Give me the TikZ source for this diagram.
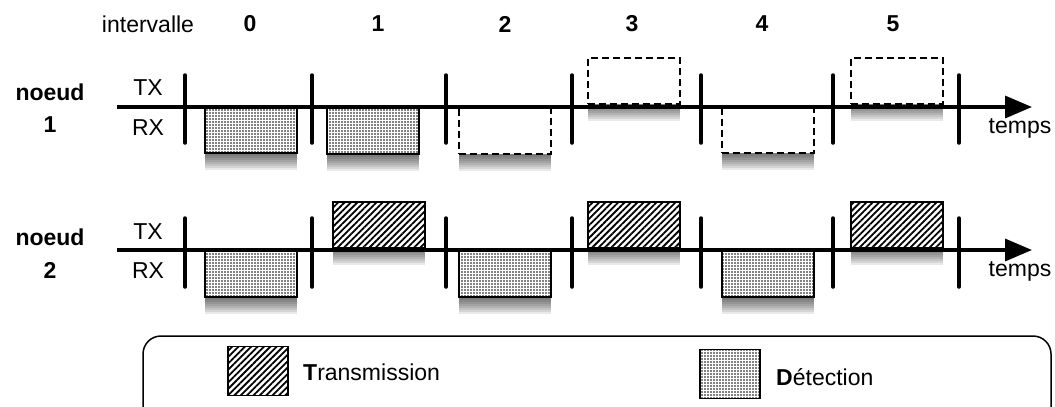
\documentclass[tikz,border=0pt]{standalone}
\usepackage{fontspec}
\setmainfont{Liberation Sans}
\usetikzlibrary{arrows.meta,patterns.meta}
\newcommand\taille{\fontsize{23}{27}\selectfont}
\tikzset{
  couche/.style={preaction={fill=black,opacity=.085,draw=none,transform canvas={yshift=-#1}}},
  ombre/.style={couche=17pt,couche=15pt,couche=13pt,couche=11pt,couche=9pt,couche=7pt,couche=5pt,couche=3pt},
  creneau/.style={draw,line width=2pt,minimum width=92pt,minimum height=46pt,inner sep=0pt,outer sep=0pt},
  pointille/.style={draw,preaction={fill=white},pattern={Dots[distance=3pt,radius=0.95pt]}},
  hachure/.style={draw,preaction={fill=white},pattern={Lines[angle=45,distance=4.5pt,line width=1.8pt]}},
  detect/.style={creneau,ombre,pointille},
  transm/.style={creneau,ombre,hachure},
  libre/.style={creneau,ombre,preaction={fill=white},dash pattern=on 7pt off 4pt},
  carre/.style={line width=1.5pt,minimum width=60pt,minimum height=49pt,inner sep=0pt},
  axe/.style={line width=3.5pt,-{Triangle[length=27pt,width=22pt]}},
  trait/.style={line width=3.5pt,line cap=round},
  etiq/.style={inner sep=0pt},
  titre/.style={inner sep=0pt,font=\taille\bfseries},
}
\begin{document}
\begin{tikzpicture}[x=1pt,y=-1pt,font=\taille]
  \useasboundingbox (0,0) rectangle (1055,407);
  \clip (0,0) rectangle (1055,407);
  % en-tete
  \node[etiq] (int) at (148,24) {intervalle};
  \node[titre] (i0) at (250,24) {0};
  \node[titre] (i1) at (378,24) {1};
  \node[titre] (i2) at (505,24) {2};
  \node[titre] (i3) at (632,24) {3};
  \node[titre] (i4) at (762,24) {4};
  \node[titre] (i5) at (893,24) {5};
  % noeud 1
  \node[titre] (n1) at (50,92) {noeud};
  \node[titre] (n1b) at (50,125) {1};
  \node[etiq] (tx1) at (148,88) {TX};
  \node[etiq] (rx1) at (148,128) {RX};
  \node[detect] (a0) at (251,130) {};
  \node[detect] (a1) at (373,131) {};
  \node[libre] (a2) at (505,130.5) {};
  \node[libre] (a3) at (633.5,81) {};
  \node[libre] (a4) at (767.5,129.5) {};
  \node[libre] (a5) at (896.5,81) {};
  \coordinate (d1) at (117,107);
  \coordinate (f1) at (1032,107);
  \draw[axe] (d1) -- (f1);
  \foreach \x in {185,312,446,572,701,833,959}
    \draw[trait] (\x,75) -- (\x,143);
  \node[etiq] (t1) at (1020,128) {temps};
  % noeud 2
  \node[titre] (n2) at (50,237) {noeud};
  \node[titre] (n2b) at (50,270) {2};
  \node[etiq] (tx2) at (148,232) {TX};
  \node[etiq] (rx2) at (148,271) {RX};
  \node[detect] (b0) at (251,273.5) {};
  \node[transm] (b1) at (378.5,224.5) {};
  \node[detect] (b2) at (505,273.5) {};
  \node[transm] (b3) at (633.5,224.5) {};
  \node[detect] (b4) at (767.5,273.5) {};
  \node[transm] (b5) at (896.5,224.5) {};
  \coordinate (d2) at (117,250);
  \coordinate (f2) at (1032,250);
  \draw[axe] (d2) -- (f2);
  \foreach \x in {185,312,446,572,701,833,959}
    \draw[trait] (\x,218) -- (\x,287);
  \node[etiq] (t2) at (1020,271) {temps};
  % legende
  \draw[line width=1.5pt,rounded corners=18pt] (143,336) rectangle (1051,450);
  \node[carre,hachure] (lt) at (258,371) {};
  \node[etiq,anchor=west] (ltx) at (303,372) {\textbf{T}ransmission};
  \node[carre,pointille] (ld) at (730,374) {};
  \node[etiq,anchor=west] (ldx) at (776,377) {\textbf{D}étection};
\end{tikzpicture}
\end{document}
